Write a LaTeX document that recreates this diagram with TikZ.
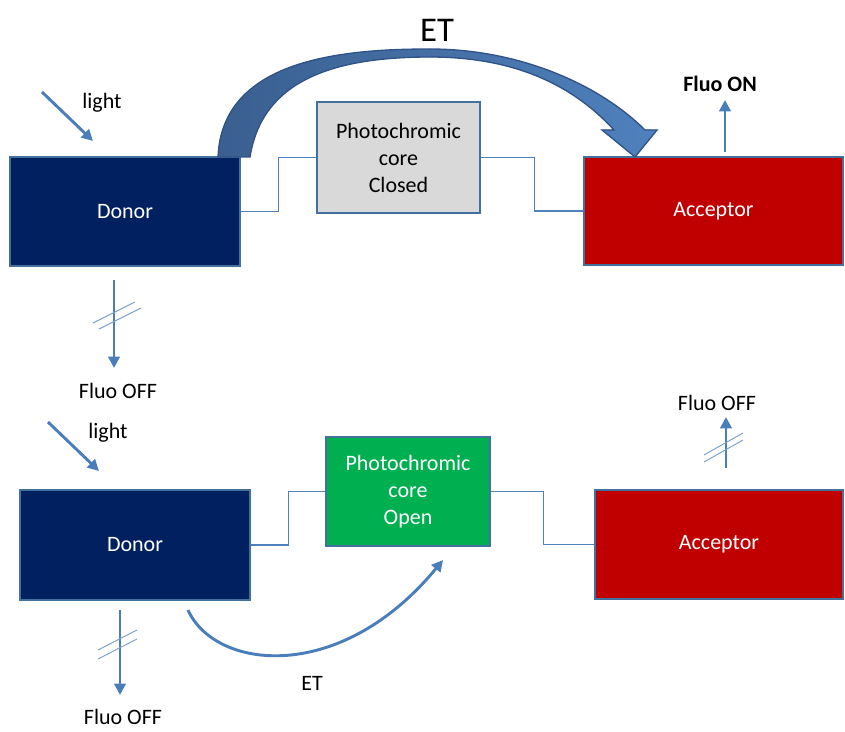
\documentclass[tikz,border=0pt]{standalone}
\usepackage{fontspec}
\setmainfont{Carlito}
\usetikzlibrary{arrows.meta,positioning}
\definecolor{donorblue}{HTML}{002060}
\definecolor{accred}{HTML}{C00000}
\definecolor{coregray}{HTML}{D9D9D9}
\definecolor{coregreen}{HTML}{00B050}
\definecolor{edgeblue}{HTML}{41719C}
\definecolor{arrblue}{HTML}{4A7EBB}
\definecolor{linkblue}{HTML}{4F81BD}
\definecolor{etdark}{HTML}{3A5F8F}
\definecolor{etline}{HTML}{2F5289}

\begin{document}
\begin{tikzpicture}[x=0.75pt, y=-0.75pt,
  box/.style={draw=edgeblue, line width=1.1pt, align=center, inner sep=0pt,
    font=\fontsize{16.5}{20.25}\selectfont},
  txt/.style={font=\fontsize{16.5}{20}\selectfont},
  arr/.style={draw=arrblue, line width=2.2pt, -{Triangle[length=8.5pt,width=8.5pt]}},
  link/.style={draw=linkblue, line width=0.8pt},
  cut/.style={draw=arrblue!75, line width=0.7pt}]

\useasboundingbox (0,0) rectangle (845,731);

% closed state
\node[box, fill=donorblue, text=white, minimum width=172.5pt, minimum height=81.75pt] (dT) at (125,211.5) {Donor};
\node[box, fill=coregray, minimum width=122.25pt, minimum height=83.25pt] (cT) at (398.5,157.5) {Photochromic\\core\\Closed};
\node[box, fill=accred, text=white, minimum width=194.25pt, minimum height=81pt] (aT) at (713.5,211) {Acceptor};

\draw[link] (dT.east) -- ++(38,0) |- (cT.west);
\draw[link] (cT.east) -- ++(54,0) |- (aT.west);

\filldraw[draw=etline, line width=1pt, left color=etdark, right color=linkblue]
  (218,157) .. controls (222,60) and (340,49) .. (430,49)
  .. controls (520,49) and (600,85) .. (645,130)
  -- (657,130) -- (635,157) -- (602,130) -- (614,130)
  .. controls (570,82) and (510,57) .. (430,57)
  .. controls (330,57) and (262,82) .. (250,157) -- cycle;
\node[font=\fontsize{26}{30}\selectfont] (etT) at (437,30) {ET};

\node[txt] (lightT) at (102,103) {light};
\coordinate (inT) at (42,92);
\coordinate (hitT) at (93,141);
\draw[arr] (inT) -- (hitT);

\node[txt] (offT) at (118,391) {Fluo OFF};
\coordinate (oT1) at (114,280);
\coordinate (oT2) at (114,368);
\draw[arr] (oT1) -- (oT2);
\foreach \dx/\dy in {0/0,6/6}
  \draw[cut] ({93+\dx},{323+\dy}) -- ({135+\dx},{302+\dy});

\node[txt, font=\fontsize{16.5}{20}\selectfont\bfseries] (onT) at (720,84) {Fluo ON};
\coordinate (nT1) at (725,152);
\coordinate (nT2) at (725,100);
\draw[arr] (nT1) -- (nT2);

% open state
\node[box, fill=donorblue, text=white, minimum width=172.5pt, minimum height=82.5pt] (dB) at (135,545) {Donor};
\node[box, fill=coregreen, text=white, minimum width=123pt, minimum height=81.75pt] (cB) at (408,491.5) {Photochromic\\core\\Open};
\node[box, fill=accred, text=white, minimum width=186pt, minimum height=81.75pt] (aB) at (719,544.5) {Acceptor};

\draw[link] (dB.east) -- ++(38,0) |- (cB.west);
\draw[link] (cB.east) -- ++(53,0) |- (aB.west);

\node[txt] (lightB) at (108,433) {light};
\coordinate (inB) at (48,422);
\coordinate (hitB) at (99,471);
\draw[arr] (inB) -- (hitB);

\node[txt] (offB) at (123,717) {Fluo OFF};
\coordinate (oB1) at (120,610);
\coordinate (oB2) at (120,695);
\draw[arr] (oB1) -- (oB2);
\foreach \dy in {0,9}
  \draw[cut] (98,{650+\dy}) -- (137,{630+\dy});

\node[txt] (offA) at (717,403) {Fluo OFF};
\coordinate (nB1) at (726,468);
\coordinate (nB2) at (726,417);
\draw[arr] (nB1) -- (nB2);
\foreach \dy in {0,7}
  \draw[cut] (704,{455+\dy}) -- (743,{433+\dy});

\node[txt] (etB) at (312,683) {ET};
\coordinate (etS) at (188,610);
\coordinate (etE) at (443,560);
\draw[arr] (etS) .. controls (215,670) and (340,685) .. (etE);

\end{tikzpicture}
\end{document}
